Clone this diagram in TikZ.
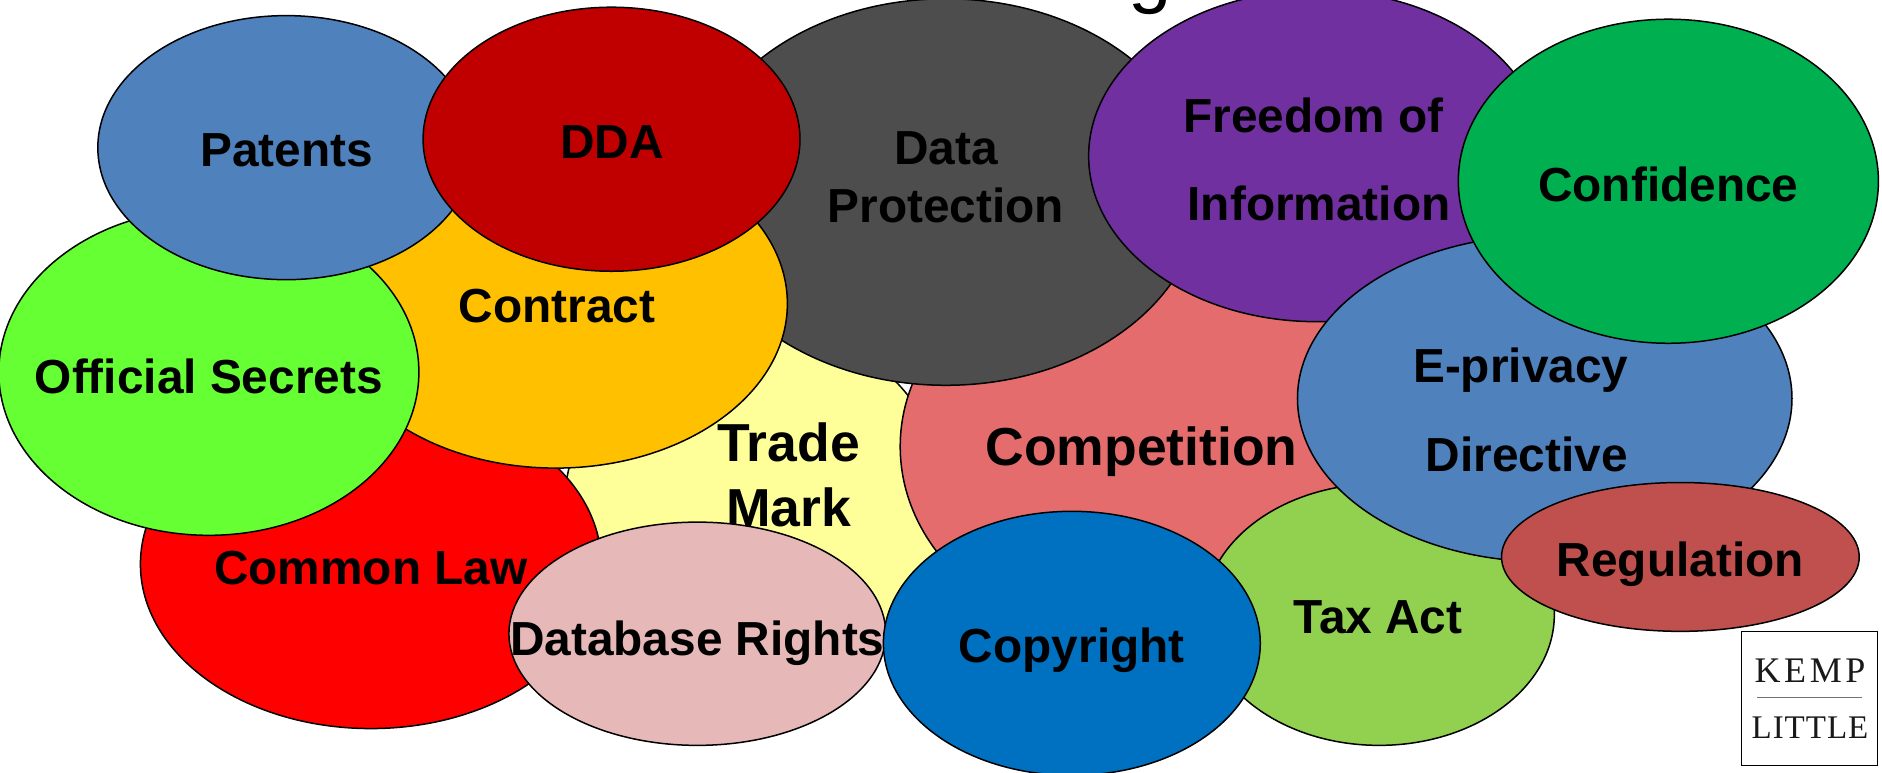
\documentclass[tikz,border=0pt]{standalone}
\usepackage{fontspec}
\setmainfont{Liberation Sans}
\newfontfamily\kempfont[LetterSpace=10]{Liberation Serif}
\newfontfamily\littlefont[LetterSpace=3]{Liberation Serif}
\usetikzlibrary{shapes.geometric}
\tikzset{
  blob/.style={ellipse,draw=black,line width=1.5pt,inner sep=0pt,outer sep=0pt},
  lbl/.style={inner sep=0pt,outer sep=0pt,align=center,text=black,font=\bfseries\fontsize{47.8}{#1}\selectfont},
  lbl/.default=58,
  lblbig/.style={inner sep=0pt,outer sep=0pt,align=center,text=black,font=\bfseries\fontsize{53.5}{65}\selectfont},
  logotext/.style={inner sep=0pt,text=black!90}
}
\newcommand{\blob}[6]{\node[blob,fill={#6},minimum width={2.4006*#4 pt},minimum height={2.4006*#5 pt}] (#1) at (#2,#3) {};}
\definecolor{cPat}{HTML}{4F81BD}
\definecolor{cDDA}{HTML}{C00000}
\definecolor{cDP}{HTML}{4D4D4D}
\definecolor{cFoi}{HTML}{7030A0}
\definecolor{cConf}{HTML}{00B050}
\definecolor{cReg}{HTML}{C0504D}
\definecolor{cTax}{HTML}{92D050}
\definecolor{cCopy}{HTML}{0070C0}
\definecolor{cDb}{HTML}{E6B9B8}
\definecolor{cOff}{HTML}{66FF33}
\definecolor{cCon}{HTML}{FFC000}
\definecolor{cTm}{HTML}{FFFF99}
\definecolor{cComp}{HTML}{E46C6C}
\begin{document}
\begin{tikzpicture}[x=1.2003pt,y=-1.2003pt]
\useasboundingbox (0,0) rectangle (1568,644);
\node[inner sep=0pt,anchor=base,font=\fontsize{78}{80}\selectfont] (title) at (958,-1) {g};
\blob{tm}{630}{425}{160}{156}{cTm}
\node[lblbig] (tmT) at (657,396) {Trade\\Mark};
\blob{cl}{309}{470}{192}{137}{red}
\node[lbl] (clT) at (309,473) {Common Law};
\blob{comp}{950}{372}{200}{165}{cComp}
\node[lblbig] (compT) at (951,376) {Competition};
\blob{tax}{1149}{512}{146}{109}{cTax}
\node[lbl] (taxT) at (1148,514) {Tax Act};
\blob{dp}{788}{160}{213}{161}{cDP}
\node[lbl] (dpT) at (788,148) {Data\\Protection};
\blob{con}{463}{253}{193}{137}{cCon}
\node[lbl] (conT) at (464,255) {Contract};
\blob{off}{174}{310}{175}{136}{cOff}
\node[lbl] (offT) at (174,314) {Official Secrets};
\blob{pat}{238.5}{123}{157}{110}{cPat}
\node[lbl] (patT) at (239,125) {Patents};
\blob{dda}{509.5}{116}{157}{110}{cDDA}
\node[lbl] (ddaT) at (510,118) {DDA};
\blob{foi}{1097}{130}{190}{138}{cFoi}
\node[lbl,anchor=base] (foiA) at (1094.5,110) {Freedom of};
\node[lbl,anchor=base] (foiB) at (1099,184) {Information};
\blob{ep}{1287}{332}{206}{136}{cPat}
\node[lbl,anchor=base] (epA) at (1267,319) {E-privacy};
\node[lbl,anchor=base] (epB) at (1272,393) {Directive};
\blob{conf}{1390}{151}{175}{135}{cConf}
\node[lbl] (confT) at (1390,154) {Confidence};
\blob{reg}{1400}{464}{149}{62}{cReg}
\node[lbl] (regT) at (1400,470) {Regulation};
\blob{db}{581}{528}{157}{93}{cDb}
\node[lbl] (dbT) at (581,536) {Database Rights};
\blob{copy}{893}{536}{157}{110}{cCopy}
\node[lbl] (copyT) at (893,542) {Copyright};
\node[draw=black,line width=1.2pt,fill=white,minimum width={1.2003*113 pt},minimum height={1.2003*112 pt},inner sep=0pt] (logo) at (1507.5,582) {};
\node[logotext,font=\kempfont\fontsize{36}{38}\selectfont] (kemp) at (1508,559) {KEMP};
\node[logotext,font=\littlefont\fontsize{33}{36}\selectfont] (little) at (1508,606) {LITTLE};
\coordinate (ruleL) at (1464,581);
\coordinate (ruleR) at (1551,581);
\draw[black!55,line width=1pt] (ruleL) -- (ruleR);
\end{tikzpicture}
\end{document}
